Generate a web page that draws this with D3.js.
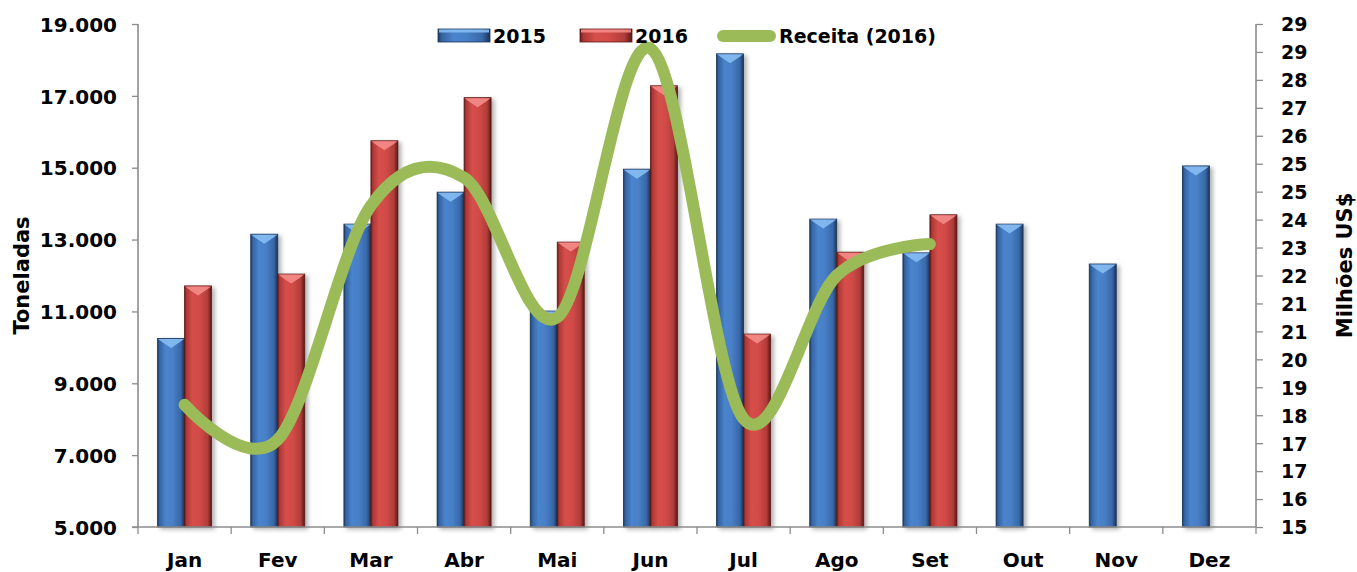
<!DOCTYPE html>
<html>
<head>
<meta charset="utf-8">
<script src="https://cdn.jsdelivr.net/npm/d3@7/dist/d3.min.js"></script>
<style>
  html, body { margin: 0; padding: 0; background: #fff; }
  svg { display: block; }
  text { font-family: "DejaVu Sans", sans-serif; font-weight: bold; fill: #000; }
</style>
</head>
<body>
<svg id="chart" width="1357" height="572"></svg>
<script>
// Monthly volume (tonnes) and 2016 revenue (US$ million)
const months = ["Jan", "Fev", "Mar", "Abr", "Mai", "Jun", "Jul", "Ago", "Set", "Out", "Nov", "Dez"];
const tons2015 = [10250, 13150, 13430, 14320, 11010, 14960, 18170, 13570, 12630, 13430, 12320, 15050];
const tons2016 = [11710, 12040, 15750, 16950, 12930, 17280, 10370, 12650, 13690, null, null, null];
const revenue2016 = [18.5, 17.5, 24.2, 25.0, 21.0, 28.7, 18.1, 22.2, 23.1];
const leftTicks = [5000, 7000, 9000, 11000, 13000, 15000, 17000, 19000];
const rightTicks = [15, 15.8, 16.6, 17.4, 18.2, 19, 19.8, 20.6, 21.4, 22.2, 23, 23.8, 24.6, 25.4, 26.2, 27, 27.8, 28.6, 29.4];
const seriesNames = ["2015", "2016"];

const svg = d3.select("#chart");
const plot = { left: 138, right: 1256, top: 24, bottom: 527 };

const x = d3.scaleBand().domain(months).range([plot.left, plot.right]).padding(0);
const gapWidth = 1.45; // gap between groups, relative to one bar
const x1 = d3.scaleBand().domain(seriesNames).range([0, x.bandwidth()])
  .paddingInner(0).paddingOuter(gapWidth / 2);
const y = d3.scaleLinear().domain([5000, 19000]).range([plot.bottom, plot.top]);
const yR = d3.scaleLinear().domain([15, 29.4]).range([plot.bottom, plot.top]);

const ptBR = d3.formatLocale({ decimal: ",", thousands: ".", grouping: [3], currency: ["", ""] });
const fmtTons = ptBR.format(",");

// Gradients and shadow for the bevelled bars
const defs = svg.append("defs");
function barGradient(id, stops) {
  const g = defs.append("linearGradient").attr("id", id)
    .attr("x1", "0%").attr("x2", "100%").attr("y1", "0%").attr("y2", "0%");
  stops.forEach(([o, c]) => g.append("stop").attr("offset", o).attr("stop-color", c));
}
barGradient("g2015", [["0%", "#1d3a60"], ["7%", "#3462a0"], ["30%", "#4a84cc"], ["55%", "#4880c8"], ["85%", "#3868a8"], ["100%", "#1a3356"]]);
barGradient("g2016", [["0%", "#641c1a"], ["7%", "#ad3835"], ["30%", "#d64f4b"], ["55%", "#d24b47"], ["85%", "#b13d3a"], ["100%", "#5a1816"]]);
const bevelColors = { "2015": "#86bcf2", "2016": "#f48c88" };
const edgeColors = { "2015": "#1a3356", "2016": "#5a1816" };

const shadow = defs.append("filter").attr("id", "shadow")
  .attr("x", "-20%").attr("y", "-5%").attr("width", "160%").attr("height", "115%");
shadow.append("feDropShadow").attr("dx", 3).attr("dy", 2).attr("stdDeviation", 2)
  .attr("flood-color", "#000").attr("flood-opacity", 0.3);

// Bars
const barData = [];
months.forEach((m, i) => {
  [[seriesNames[0], tons2015[i]], [seriesNames[1], tons2016[i]]].forEach(([s, v]) => {
    if (v != null) barData.push({ month: m, series: s, value: v });
  });
});

const bars = svg.append("g").selectAll("g.bar").data(barData).join("g")
  .attr("class", "bar")
  .attr("filter", "url(#shadow)");

bars.append("rect")
  .attr("x", d => x(d.month) + x1(d.series))
  .attr("y", d => y(d.value))
  .attr("width", x1.bandwidth())
  .attr("height", d => y(5000) - y(d.value))
  .attr("fill", d => `url(#g${d.series})`)
  .attr("stroke", d => edgeColors[d.series])
  .attr("stroke-width", 0.8);

// Light bevel on each bar top
bars.append("path")
  .attr("d", d => {
    const x0 = x(d.month) + x1(d.series) + 0.5;
    const w = x1.bandwidth() - 1;
    const y0 = y(d.value) + 0.5;
    return `M${x0},${y0}L${x0 + w},${y0}L${x0 + w - 4},${y0 + 3}L${x0 + w / 2},${y0 + 9}L${x0 + 4},${y0 + 3}Z`;
  })
  .attr("fill", d => bevelColors[d.series])
  .attr("opacity", 0.9);

// Axes
const axisColor = "#8c8c8c";
const gLeft = svg.append("g").attr("transform", `translate(${plot.left},0)`)
  .call(d3.axisLeft(y).tickValues(leftTicks).tickFormat(fmtTons).tickSize(6).tickPadding(15));
const gRight = svg.append("g").attr("transform", `translate(${plot.right},0)`)
  .call(d3.axisRight(yR).tickValues(rightTicks).tickFormat(v => String(Math.round(v))).tickSize(7).tickPadding(18));
const gBottom = svg.append("g").attr("transform", `translate(0,${plot.bottom})`)
  .call(d3.axisBottom(x).tickSize(0).tickPadding(26));

// Category boundary ticks on the bottom axis
svg.append("g").selectAll("line").data(d3.range(months.length + 1)).join("line")
  .attr("x1", i => plot.left + i * x.step()).attr("x2", i => plot.left + i * x.step())
  .attr("y1", plot.bottom).attr("y2", plot.bottom + 7)
  .attr("stroke", axisColor).attr("stroke-width", 1.3);

[gLeft, gRight, gBottom].forEach(g => {
  g.selectAll(".domain").attr("stroke", axisColor).attr("stroke-width", 1.6);
  g.selectAll(".tick line").attr("stroke", axisColor).attr("stroke-width", 1.3);
  g.selectAll(".tick text").style("font-size", "20px").style("font-family", "DejaVu Sans").style("font-weight", "bold").attr("fill", "#000");
});
gRight.selectAll(".tick text").style("font-size", "19px");
gLeft.select(".domain").attr("d", `M0,${plot.top}V${plot.bottom}`);
gRight.select(".domain").attr("d", `M0,${plot.top}V${plot.bottom}`);
gBottom.select(".domain").attr("d", `M${plot.left - 6},0H${plot.right}`);
gRight.selectAll(".tick text").attr("dy", "0.36em");
gLeft.selectAll(".tick text").attr("dy", "0.36em");

// Revenue line (smoothed)
const line = d3.line()
  .x((d, i) => x(months[i]) + x.bandwidth() / 2)
  .y(d => yR(d))
  .curve(d3.curveCardinal.tension(0));
svg.append("path")
  .datum(revenue2016)
  .attr("d", line)
  .attr("fill", "none")
  .attr("stroke", "#9bbb59")
  .attr("stroke-width", 12)
  .attr("stroke-linecap", "round")
  .attr("stroke-linejoin", "round");

// Axis titles
svg.append("text")
  .attr("transform", `translate(29,${(plot.top + plot.bottom) / 2}) rotate(-90)`)
  .attr("text-anchor", "middle")
  .style("font-size", "21px")
  .text("Toneladas");
svg.append("text")
  .attr("transform", `translate(1352,${(plot.top + plot.bottom) / 2 - 10}) rotate(-90)`)
  .attr("text-anchor", "middle")
  .style("font-size", "21px")
  .text("Milhões US$");

// Legend
const legend = svg.append("g");
const legendItems = [
  { label: "2015", type: "bar", series: "2015", x: 438 },
  { label: "2016", type: "bar", series: "2016", x: 580 },
  { label: "Receita (2016)", type: "line", x: 718 }
];
legendItems.forEach(it => {
  if (it.type === "bar") {
    legend.append("rect").attr("x", it.x).attr("y", 29).attr("width", 52).attr("height", 13)
      .attr("fill", `url(#g${it.series})`).attr("stroke", edgeColors[it.series]).attr("stroke-width", 0.8);
    legend.append("rect").attr("x", it.x + 1).attr("y", 29.5).attr("width", 50).attr("height", 3)
      .attr("fill", bevelColors[it.series]).attr("opacity", 0.9);
    legend.append("text").attr("x", it.x + 55).attr("y", 43).style("font-size", "19px").text(it.label);
  } else {
    legend.append("line").attr("x1", it.x + 5).attr("x2", it.x + 52).attr("y1", 36).attr("y2", 36)
      .attr("stroke", "#9bbb59").attr("stroke-width", 12).attr("stroke-linecap", "round");
    legend.append("text").attr("x", it.x + 61).attr("y", 43).style("font-size", "19px").text(it.label);
  }
});
</script>
</body>
</html>
